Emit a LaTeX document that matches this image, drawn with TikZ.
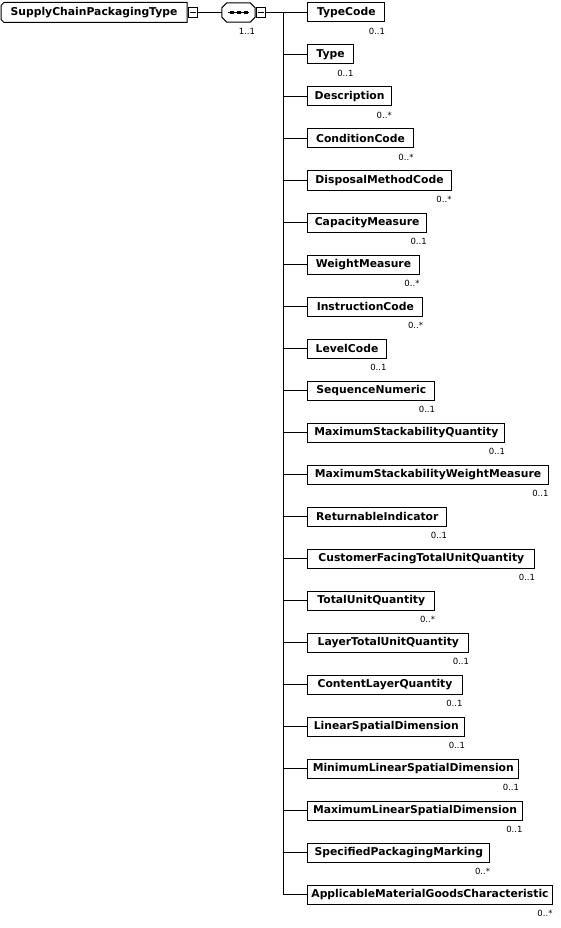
\documentclass[tikz,border=0pt]{standalone}
\usepackage{fontspec}
\setmainfont{DejaVu Sans}
\usetikzlibrary{positioning}

\tikzset{
  elem/.style={draw, line width=1pt, anchor=west, minimum height=19pt, inner sep=0pt,
    font=\bfseries\fontsize{10.8}{12}\selectfont},
  mult/.style={anchor=east, inner sep=0pt, font=\fontsize{8.5}{9}\selectfont},
  minus/.style={draw, line width=1pt, anchor=west, minimum width=9pt, minimum height=10pt, inner sep=0pt},
  wire/.style={line width=1pt},
}

\begin{document}
\begin{tikzpicture}[x=1pt, y=-1pt]

    \useasboundingbox (0,0) rectangle (560,928);

    % root complex type
    \node[elem, draw=none, minimum width=185pt] (root) at (1,12.5) {SupplyChainPackagingType};
    \draw[wire] (root.north east) -- ([xshift=3pt]root.north west) -- ([yshift=-3pt]root.north west)
        -- ([yshift=3pt]root.south west) -- ([xshift=3pt]root.south west) -- (root.south east) -- cycle;
    \node[minus] (rootminus) at ([xshift=1pt]root.east) {};
    \draw ([xshift=2pt]rootminus.west) -- ([xshift=-2pt]rootminus.east);

    % sequence
    \node[minimum width=33pt, minimum height=19pt, inner sep=0pt] (seq) at (238.5,12.5) {};
    \draw[wire] ([xshift=5pt]seq.north west) -- ([xshift=-5pt]seq.north east) -- ([yshift=-5pt]seq.north east)
        -- ([yshift=5pt]seq.south east) -- ([xshift=-5pt]seq.south east) -- ([xshift=5pt]seq.south west)
        -- ([yshift=5pt]seq.south west) -- ([yshift=-5pt]seq.north west) -- cycle;
    \draw ([xshift=6pt]seq.west) -- ([xshift=-6pt]seq.east);
    \foreach \dx in {-7,0,7} {
        \fill ([xshift=\dx pt]seq.center) +(-2,-1.5) rectangle +(2,1.5);
    }
    \node[mult] (seqmult) at ([yshift=-9pt]seq.south east) {1..1};
    \node[minus] (seqminus) at ([xshift=1pt]seq.east) {};
    \draw ([xshift=2pt]seqminus.west) -- ([xshift=-2pt]seqminus.east);

    \draw[wire] (rootminus.east) -- (seq.west);
    \coordinate (bus) at (283,12.5);
    \draw[wire] (seqminus.east) -- (bus);

    % child elements
    \foreach \lbl/\w/\card [count=\i from 0] in {
        TypeCode/77/0..1, Type/45.4/0..1, Description/83.7/0..*,
        ConditionCode/105.4/0..*, DisposalMethodCode/143.4/0..*,
        CapacityMeasure/118.7/0..1, WeightMeasure/111.4/0..*,
        InstructionCode/115/0..*, LevelCode/78.4/0..1,
        SequenceNumeric/127/0..1, MaximumStackabilityQuantity/197/0..1,
        MaximumStackabilityWeightMeasure/240.4/0..1,
        ReturnableIndicator/139/0..1, CustomerFacingTotalUnitQuantity/227/0..1,
        TotalUnitQuantity/127/0..*, LayerTotalUnitQuantity/161/0..1,
        ContentLayerQuantity/154.4/0..1, LinearSpatialDimension/157/0..1,
        MinimumLinearSpatialDimension/211/0..1, MaximumLinearSpatialDimension/214.4/0..1,
        SpecifiedPackagingMarking/182/0..*,
        ApplicableMaterialGoodsCharacteristic/244.4/0..*} {
        \node[elem, minimum width=\w pt] (c\i) at (307.3, 12.5+42*\i) {\lbl};
        \node[mult] (m\i) at ([yshift=-9pt]c\i.south east) {\card};
        \coordinate (j\i) at (283, 12.5+42*\i);
        \draw[wire] (j\i) -- (c\i.west);
    }
    \draw[wire] (bus) -- (j21);

\end{tikzpicture}
\end{document}
